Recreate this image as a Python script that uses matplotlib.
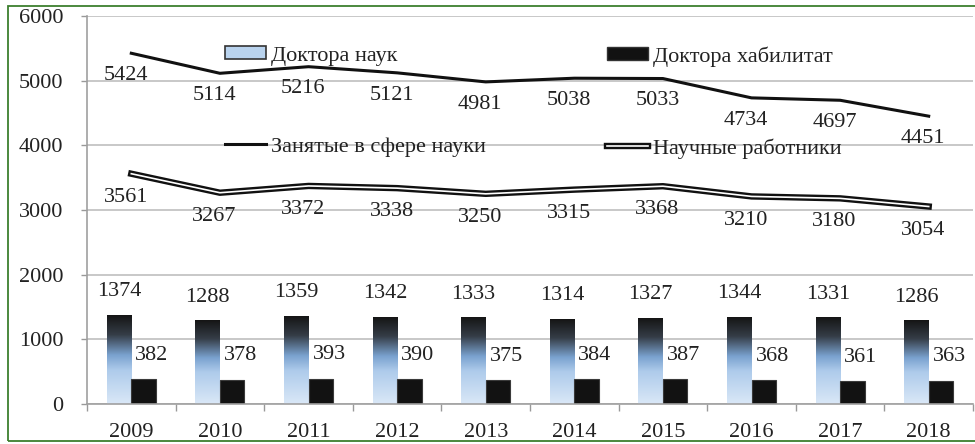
import numpy as np
import matplotlib
matplotlib.use('Agg')
import matplotlib.pyplot as plt
import matplotlib.patheffects as pe
from matplotlib.colors import LinearSegmentedColormap
from matplotlib.patches import Patch, Rectangle
from matplotlib.lines import Line2D

# Данные
years = ['2009', '2010', '2011', '2012', '2013', '2014', '2015', '2016', '2017', '2018']
employed = [5424, 5114, 5216, 5121, 4981, 5038, 5033, 4734, 4697, 4451]
scientists = [3561, 3267, 3372, 3338, 3250, 3315, 3368, 3210, 3180, 3054]
doctors = [1374, 1288, 1359, 1342, 1333, 1314, 1327, 1344, 1331, 1286]
habilitated = [382, 378, 393, 390, 375, 384, 387, 368, 361, 363]

plt.rcParams['font.family'] = ['Liberation Serif', 'DejaVu Serif']
FS = 16
TXT = '#222222'

fig = plt.figure(figsize=(9.75, 4.44), dpi=100)
ax = fig.add_axes([87 / 975, 1 - 404 / 444, 886 / 975, 388 / 444])

x = np.arange(len(years))
w = 0.277

# Градиент для столбцов "Доктора наук"
grad_cmap = LinearSegmentedColormap.from_list(
    'dr', [(0.0, '#151515'), (0.22, '#353d47'), (0.45, '#7aa2cf'),
           (0.62, '#aecbeb'), (1.0, '#dae8f7')])
grad = np.linspace(0, 1, 256).reshape(-1, 1)

bars_dr = ax.bar(x - w / 2, doctors, w, color='none', edgecolor='none', zorder=2)
for b in bars_dr:
    ax.imshow(grad, cmap=grad_cmap, aspect='auto', zorder=2,
              extent=(b.get_x(), b.get_x() + b.get_width(), 0, b.get_height()))
bars_hab = ax.bar(x + w / 2, habilitated, w, color='#121212', edgecolor='#3a3a3a',
                  linewidth=0.8, zorder=2)

# Линии
ax.plot(x, employed, color='#111111', lw=2.2, zorder=3, solid_joinstyle='round')
ax.plot(x, scientists, color='white', lw=1.2, zorder=3, solid_joinstyle='round',
        path_effects=[pe.Stroke(linewidth=4.6, foreground='#111111'), pe.Normal()])

# Подписи значений
for i in range(len(years)):
    ax.annotate(str(employed[i]), (x[i], employed[i]), xytext=(-4, -16),
                textcoords='offset points', ha='center', va='center',
                fontsize=FS, color=TXT, zorder=4)
    ax.annotate(str(scientists[i]), (x[i], scientists[i]), xytext=(-4, -17),
                textcoords='offset points', ha='center', va='center',
                fontsize=FS, color=TXT, zorder=4)
    ax.annotate(str(doctors[i]), (x[i] - w / 2, doctors[i]), xytext=(0, 17),
                textcoords='offset points', ha='center', va='center',
                fontsize=FS, color=TXT, zorder=4)
    ax.annotate(str(habilitated[i]), (x[i] + w / 2, habilitated[i]), xytext=(6, 17),
                textcoords='offset points', ha='center', va='center',
                fontsize=FS, color=TXT, zorder=4)

ax.set_xlim(-0.5, len(years) - 0.5)
ax.set_ylim(0, 6000)
ax.set_yticks(range(0, 6001, 1000))
ax.set_xticks(x)
ax.set_xticklabels(years)
ax.set_xticks(np.arange(-0.5, len(years), 1), minor=True)
ax.tick_params(axis='x', which='major', length=0, pad=14, labelsize=FS, labelcolor=TXT)
ax.tick_params(axis='x', which='minor', length=5, color='#999999', width=1)
ax.tick_params(axis='y', length=4, color='#999999', width=1, pad=13,
               labelsize=FS, labelcolor=TXT)

ax.grid(axis='y', color='#c4c4c4', lw=1.3, zorder=0)
ax.set_axisbelow(True)
for s in ['top', 'right']:
    ax.spines[s].set_visible(False)
ax.spines['left'].set_color('#a0a0a0')
ax.spines['bottom'].set_color('#a0a0a0')
ax.spines['left'].set_linewidth(1.2)
ax.spines['bottom'].set_linewidth(1.2)

# Легенда (две колонки)
h_dr = Patch(facecolor='#b9d3ee', edgecolor='#333333', linewidth=1.2)
h_hab = Patch(facecolor='#121212', edgecolor='#333333')
h_emp = Line2D([], [], color='#111111', lw=2.2)
h_sci = Line2D([], [], color='white', lw=1.2,
               path_effects=[pe.Stroke(linewidth=4.6, foreground='#111111'), pe.Normal()])

leg_kw = dict(frameon=False, fontsize=FS, handlelength=1.85, handleheight=0.55,
              handletextpad=0.2, labelspacing=3.22, borderpad=0, borderaxespad=0,
              loc='upper left', bbox_transform=fig.transFigure, labelcolor=TXT)
leg1 = ax.legend([h_dr, h_emp], ['Доктора наук', 'Занятые в сфере науки'],
                 bbox_to_anchor=(225 / 975, 1 - 46 / 444), **leg_kw)
ax.add_artist(leg1)
leg2 = ax.legend([h_hab, h_sci], ['Доктора хабилитат', 'Научные работники'],
                 bbox_to_anchor=(607 / 975, 1 - 46 / 444), **leg_kw)

# Зелёная рамка
fig.patches.append(Rectangle((8 / 975, 1 - 441 / 444), 1.0, 435 / 444,
                             transform=fig.transFigure, fill=False,
                             edgecolor='#3d7f2e', lw=1.3, zorder=10))

fig.savefig('out.png', dpi=100)
